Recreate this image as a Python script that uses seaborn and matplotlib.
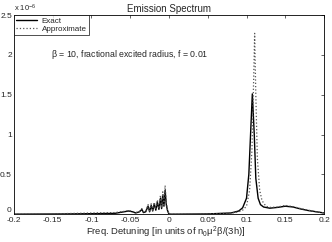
import matplotlib
matplotlib.use("Agg")
import matplotlib.pyplot as plt
import numpy as np
import pandas as pd
import seaborn as sns
from matplotlib.ticker import FuncFormatter

# Frequency detuning and spectrum values (units of 1e-6)
exact_x = [-0.2, -0.15, -0.1, -0.07, -0.058, -0.052, -0.047, -0.043, -0.038,
           -0.035, -0.033, -0.03, -0.027, -0.025, -0.023, -0.021, -0.019,
           -0.017, -0.015, -0.013, -0.011, -0.0095, -0.008, -0.0065, -0.005,
           -0.0035, -0.002, 0.0, 0.01, 0.05, 0.08, 0.09, 0.095, 0.1, 0.103,
           0.105, 0.1075, 0.11, 0.112, 0.115, 0.118, 0.122, 0.13, 0.14,
           0.15, 0.16, 0.17, 0.18, 0.19, 0.2]
exact_y = [0.0, 0.002, 0.006, 0.01, 0.03, 0.04, 0.03, 0.015, 0.03, 0.06, 0.02,
           0.03, 0.1, 0.03, 0.11, 0.04, 0.13, 0.05, 0.15, 0.06, 0.2, 0.07,
           0.24, 0.1, 0.3, 0.12, 0.05, 0.0, 0.0, 0.003, 0.015, 0.04, 0.08,
           0.2, 0.5, 0.95, 1.51, 1.0, 0.45, 0.2, 0.12, 0.09, 0.075, 0.085,
           0.1, 0.09, 0.065, 0.045, 0.03, 0.015]

approx_x = [-0.2, -0.15, -0.1, -0.07, -0.058, -0.052, -0.047, -0.043, -0.038,
            -0.035, -0.033, -0.03, -0.027, -0.025, -0.023, -0.021, -0.019,
            -0.017, -0.015, -0.013, -0.011, -0.0095, -0.008, -0.0065, -0.005,
            -0.0035, -0.002, 0.0, 0.01, 0.05, 0.08, 0.09, 0.095, 0.1, 0.104,
            0.107, 0.109, 0.1105, 0.112, 0.114, 0.117, 0.12, 0.125, 0.13,
            0.14, 0.15, 0.16, 0.17, 0.18, 0.19, 0.2]
approx_y = [0.0, 0.004, 0.015, 0.02, 0.035, 0.045, 0.035, 0.02, 0.035, 0.07,
            0.03, 0.04, 0.12, 0.04, 0.13, 0.05, 0.15, 0.06, 0.18, 0.07, 0.24,
            0.08, 0.28, 0.12, 0.36, 0.15, 0.06, 0.0, 0.0, 0.003, 0.012, 0.03,
            0.05, 0.1, 0.3, 0.8, 1.6, 2.27, 1.5, 0.7, 0.3, 0.17, 0.1, 0.085,
            0.09, 0.11, 0.095, 0.07, 0.05, 0.03, 0.015]

x_ticks = [-0.2, -0.15, -0.1, -0.05, 0, 0.05, 0.1, 0.15, 0.2]
y_ticks = [0, 0.5, 1, 1.5, 2, 2.5]

sns.set_style("white")
plt.rcParams["font.family"] = ["Liberation Sans", "DejaVu Sans"]
plt.rcParams["mathtext.fontset"] = "custom"
plt.rcParams["mathtext.rm"] = "Liberation Sans"
plt.rcParams["mathtext.it"] = "Liberation Sans"

exact = pd.DataFrame({"x": exact_x, "y": np.array(exact_y) * 1e-6})
approx = pd.DataFrame({"x": approx_x, "y": np.array(approx_y) * 1e-6})

fig = plt.figure(figsize=(3.32, 2.42), dpi=100)
ax = fig.add_axes([0.042, 0.115, 0.934, 0.823])

sns.lineplot(data=exact, x="x", y="y", ax=ax, color="black", lw=1.0,
             sort=False, estimator=None, label="Exact")
sns.lineplot(data=approx, x="x", y="y", ax=ax, color="#555555", lw=0.9,
             linestyle=":", sort=False, estimator=None, label="Approximate")

ax.set_xlim(-0.2, 0.2)
ax.set_ylim(0, 2.5e-6)
ax.set_xticks(x_ticks)
ax.set_yticks([v * 1e-6 for v in y_ticks])
ax.xaxis.set_major_formatter(FuncFormatter(lambda v, p: f"{v:g}"))
ax.yaxis.set_major_formatter(FuncFormatter(lambda v, p: f"{v / 1e-6:g}"))
ax.tick_params(direction="in", length=2.5, width=0.5, labelsize=6,
               top=True, right=True, pad=1.5)
ax.tick_params(axis="x", pad=1.8)
for s in ax.spines.values():
    s.set_linewidth(0.6)
    s.set_color("black")

# lift the "0" label a touch so it clears "-0.2"
fig.canvas.draw()
ax.get_yticklabels()[0].set_va("bottom")

ax.set_title("Emission Spectrum", fontsize=7, pad=2)
ax.set_xlabel("")
ax.set_ylabel("")
fig.text(0.5, 0.008, r"Freq. Detuning [in units of n$_0$$\mu^2$$\beta$/(3h)]",
         fontsize=6.8, ha="center", va="bottom")
ax.text(0.0, 1.005, r"x 10$^{-6}$", transform=ax.transAxes, fontsize=5.5,
        ha="left", va="bottom")
ax.text(-0.152, 2.0e-6, r"$\beta$ = 10, fractional excited radius, f = 0.01",
        fontsize=6.3, va="center")

leg = ax.legend(loc="upper left", fontsize=5.8, frameon=True, fancybox=False,
                borderaxespad=0, handlelength=2.6, borderpad=0.25,
                labelspacing=0.05, handletextpad=0.6)
leg.get_frame().set_edgecolor("black")
leg.get_frame().set_linewidth(0.6)

fig.savefig("out.png", dpi=100)
